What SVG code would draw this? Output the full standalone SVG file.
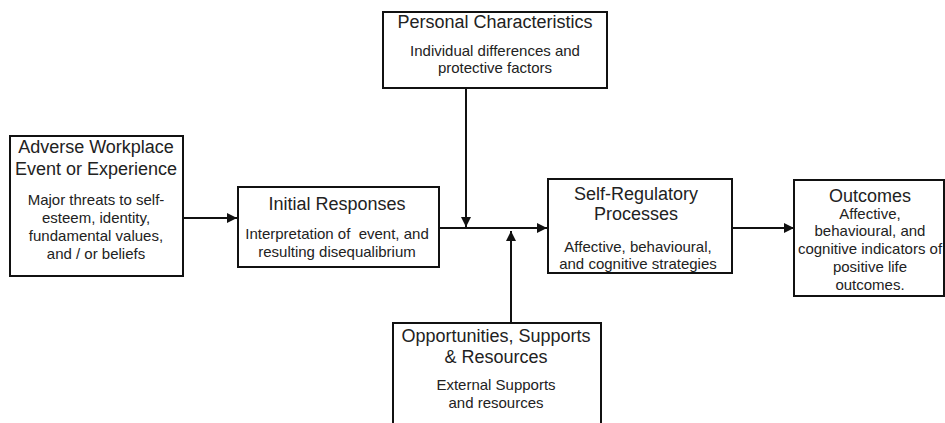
<svg xmlns="http://www.w3.org/2000/svg" width="945" height="423" viewBox="0 0 945 423">
<style>
.box{fill:#fff;stroke:#111;stroke-width:2}
.t{font-family:"Liberation Sans",Arial,sans-serif;font-size:18px;fill:#222;text-anchor:middle}
.b{font-family:"Liberation Sans",Arial,sans-serif;font-size:15px;fill:#222;text-anchor:middle}
.c{stroke:#111;stroke-width:2;fill:none}
</style>
<defs>
<marker id="ah" viewBox="0 0 10 10" refX="10" refY="5" markerWidth="5" markerHeight="5" markerUnits="strokeWidth" orient="auto">
<path d="M0,0 L10,5 L0,10 Z" fill="#111"/>
</marker>
</defs>
<rect width="945" height="423" fill="#fff"/>
<g id="connectors">
<line class="c" x1="183" y1="218" x2="237" y2="218" marker-end="url(#ah)"/>
<line class="c" x1="439" y1="228" x2="547" y2="228" marker-end="url(#ah)"/>
<line class="c" x1="466" y1="88" x2="466" y2="227" marker-end="url(#ah)"/>
<line class="c" x1="511" y1="323" x2="511" y2="231" marker-end="url(#ah)"/>
<line class="c" x1="732" y1="228" x2="794" y2="228" marker-end="url(#ah)"/>
</g>
<g id="adverse">
<rect class="box" x="10" y="136" width="173" height="140"/>
<text class="t" x="96" y="153">Adverse Workplace</text>
<text class="t" x="96" y="175">Event or Experience</text>
<text class="b" x="96" y="205">Major threats to self-</text>
<text class="b" x="96" y="223">esteem, identity,</text>
<text class="b" x="96" y="241">fundamental values,</text>
<text class="b" x="96" y="259">and / or beliefs</text>
</g>
<g id="initial">
<rect class="box" x="238" y="187" width="201" height="80"/>
<text class="t" x="337" y="210">Initial Responses</text>
<text class="b" x="337" y="239">Interpretation of&#160; event, and</text>
<text class="b" x="337" y="257">resulting disequalibrium</text>
</g>
<g id="personal">
<rect class="box" x="383" y="12" width="224" height="76"/>
<text class="t" x="495" y="28">Personal Characteristics</text>
<text class="b" x="495" y="56">Individual differences and</text>
<text class="b" x="495" y="73">protective factors</text>
</g>
<g id="selfreg">
<rect class="box" x="548" y="179" width="184" height="94"/>
<text class="t" x="636" y="200">Self-Regulatory</text>
<text class="t" x="636" y="220">Processes</text>
<text class="b" x="638" y="252">Affective, behavioural,</text>
<text class="b" x="638" y="269">and cognitive strategies</text>
</g>
<g id="outcomes">
<rect class="box" x="794" y="180" width="150" height="116"/>
<text class="t" x="870" y="202">Outcomes</text>
<text class="b" x="870" y="219">Affective,</text>
<text class="b" x="870" y="236">behavioural, and</text>
<text class="b" x="870" y="254">cognitive indicators of</text>
<text class="b" x="870" y="272">positive life</text>
<text class="b" x="870" y="290">outcomes.</text>
</g>
<g id="opportunities">
<rect class="box" x="393" y="323" width="208" height="120"/>
<text class="t" x="496" y="342">Opportunities, Supports</text>
<text class="t" x="496" y="363">&amp; Resources</text>
<text class="b" x="496" y="390">External Supports</text>
<text class="b" x="496" y="408">and resources</text>
</g>
</svg>
